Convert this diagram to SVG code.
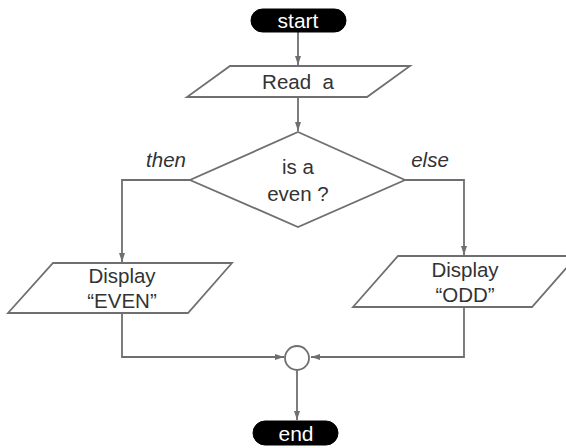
<svg xmlns="http://www.w3.org/2000/svg" width="566" height="448" viewBox="0 0 566 448">
<style>
.shape{fill:#fff;stroke:#6f6f6f;stroke-width:1.8}
.term{fill:#000;stroke:#000}
.lbl{font-family:"Liberation Sans",Arial,sans-serif;font-size:20.5px;fill:#333;text-anchor:middle}
.tlbl{font-family:"Liberation Sans",Arial,sans-serif;font-size:21px;fill:#fff;text-anchor:middle}
.ital{font-family:"Liberation Sans",Arial,sans-serif;font-size:20.5px;fill:#333;font-style:italic;text-anchor:middle}
.conn{fill:none;stroke:#6f6f6f;stroke-width:1.8}
</style>
<defs>
<marker id="arr" markerUnits="userSpaceOnUse" markerWidth="10" markerHeight="8" refX="9" refY="4" orient="auto">
<path d="M0,1 L9,4 L0,7 Z" fill="#6f6f6f"/>
</marker>
</defs>
<rect width="566" height="448" fill="#fff"/>
<g id="connectors">
<path class="conn" d="M298,32 V65" marker-end="url(#arr)"/>
<path class="conn" d="M298,97 V131" marker-end="url(#arr)"/>
<path class="conn" d="M190,180 H122 V262" marker-end="url(#arr)"/>
<path class="conn" d="M405,180 H464 V255" marker-end="url(#arr)"/>
<path class="conn" d="M122,313 V357 H284" marker-end="url(#arr)"/>
<path class="conn" d="M464,307 V357 H311" marker-end="url(#arr)"/>
<path class="conn" d="M297,370 V420" marker-end="url(#arr)"/>
<text class="ital" x="166" y="167">then</text>
<text class="ital" x="430" y="167">else</text>
</g>
<g id="start">
<rect class="term" x="251" y="9" width="95" height="23" rx="11.5"/>
<text class="tlbl" x="298" y="28">start</text>
</g>
<g id="read">
<polygon class="shape" points="230,66 410,66 367,97 187,97"/>
<text class="lbl" x="298" y="89" xml:space="preserve">Read  a</text>
</g>
<g id="decision">
<polygon class="shape" points="298,132 405,180 298,227 190,180"/>
<text class="lbl" x="298" y="174">is a</text>
<text class="lbl" x="298" y="201">even ?</text>
</g>
<g id="even">
<polygon class="shape" points="53,263 232,263 188,313 8,313"/>
<text class="lbl" x="122" y="283">Display</text>
<text class="lbl" x="122" y="308">“EVEN”</text>
</g>
<g id="odd">
<polygon class="shape" points="398,256 577,256 532,307 353,307"/>
<text class="lbl" x="465" y="277">Display</text>
<text class="lbl" x="465" y="302">“ODD”</text>
</g>
<g id="merge">
<circle class="shape" cx="297" cy="358" r="12"/>
</g>
<g id="end">
<rect class="term" x="253" y="421" width="85" height="24" rx="12"/>
<text class="tlbl" x="296" y="441">end</text>
</g>
</svg>
